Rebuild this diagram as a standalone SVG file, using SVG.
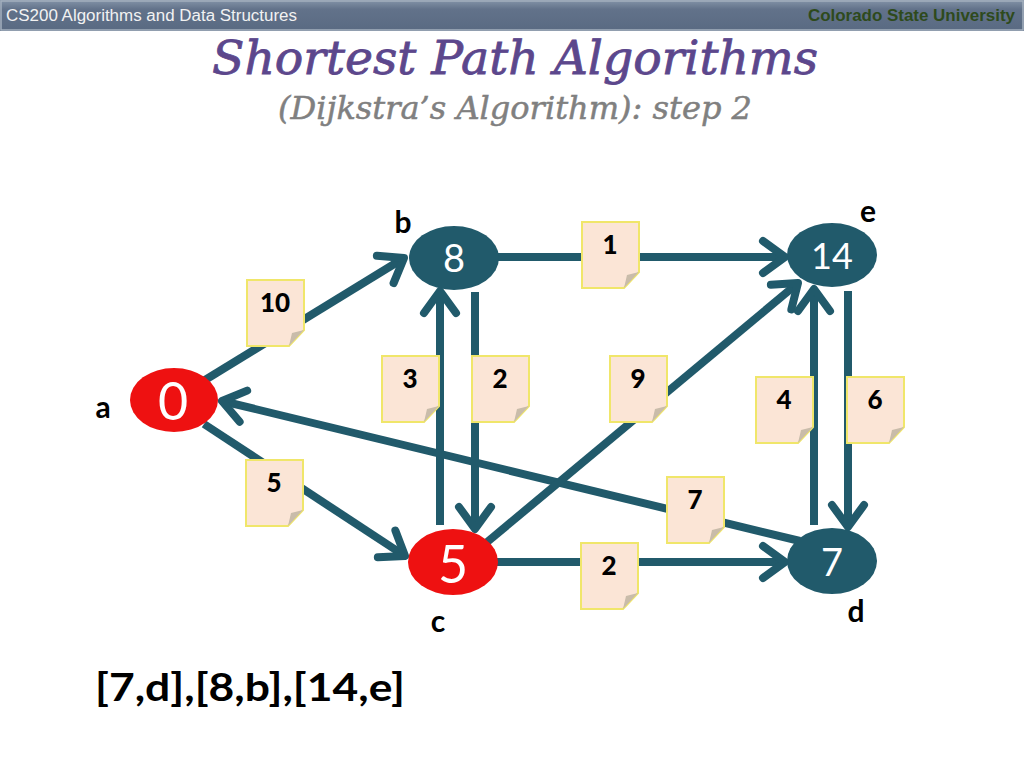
<svg xmlns="http://www.w3.org/2000/svg" width="1024" height="768" viewBox="0 0 1024 768">
<style>
.hdr{font-family:"Liberation Sans",Arial,sans-serif;font-size:16px}
.title{font-family:"DejaVu Serif","Liberation Serif",serif;font-style:italic}
.edge{fill:none;stroke:#215A6B;stroke-width:8}
.dark{fill:#215A6B}
.red{fill:#EE1111}
.ntext{font-family:Lato,"Open Sans",sans-serif;fill:#FFFFFF;text-anchor:middle}
.lbl{font-family:Lato,"Open Sans",sans-serif;font-weight:bold;font-size:30px;fill:#000;text-anchor:middle}
.wt{font-family:Lato,"Open Sans",sans-serif;font-weight:900;font-size:26px;fill:#000;text-anchor:middle}
</style>
<defs>
<linearGradient id="bar" x1="0" y1="0" x2="0" y2="1">
<stop offset="0" stop-color="#8494A8"/>
<stop offset="0.3" stop-color="#62728A"/>
<stop offset="1" stop-color="#596A82"/>
</linearGradient>
<marker id="arr" markerUnits="userSpaceOnUse" viewBox="-32 -22 40 44" markerWidth="40" markerHeight="44" refX="0" refY="0" orient="auto">
<path d="M-22,-16 L0,0 L-22,16" fill="none" stroke="#215A6B" stroke-width="8" stroke-linecap="round" stroke-linejoin="round"/>
</marker>
<g id="note">
<path d="M0,0 H57 V50 L42,66 H0 Z" fill="#FBE5D6" stroke="#F0E66A" stroke-width="2"/>
<path d="M42,66 L45,53 L57,50 Z" fill="#C9BCAA"/>
</g>
</defs>
<rect x="0" y="0" width="1024" height="768" fill="#FFFFFF"/>
<g id="header">
<rect x="0" y="0" width="1024" height="31" fill="url(#bar)"/>
<rect x="1" y="1" width="1022" height="29" fill="none" stroke="#A4B0BE" stroke-width="1.5"/>
<text class="hdr" x="6" y="21" fill="#F2F2F2" textLength="291" lengthAdjust="spacingAndGlyphs">CS200 Algorithms and Data Structures</text>
<text class="hdr" x="808" y="21" fill="#2E4A1C" font-weight="bold" textLength="207" lengthAdjust="spacingAndGlyphs">Colorado State University</text>
</g>
<text class="title" x="212" y="74" font-size="46" fill="#5C478C" stroke="#5C478C" stroke-width="0.8" textLength="606" lengthAdjust="spacingAndGlyphs">Shortest Path Algorithms</text>
<text class="title" x="278" y="119" font-size="32" fill="#808080" stroke="#808080" stroke-width="0.5" textLength="474" lengthAdjust="spacingAndGlyphs">(Dijkstra’s Algorithm): step 2</text>

<g id="connectors">
<line class="edge" x1="205" y1="380" x2="404" y2="258" marker-end="url(#arr)"/>
<line class="edge" x1="204" y1="424" x2="405" y2="556" marker-end="url(#arr)"/>
<line class="edge" x1="800" y1="541" x2="222" y2="401" marker-end="url(#arr)"/>
<line class="edge" x1="498" y1="257" x2="785" y2="257" marker-end="url(#arr)"/>
<line class="edge" x1="440" y1="525" x2="440" y2="291" marker-end="url(#arr)"/>
<line class="edge" x1="475" y1="292" x2="475" y2="529" marker-end="url(#arr)"/>
<line class="edge" x1="486" y1="543" x2="798" y2="283" marker-end="url(#arr)"/>
<line class="edge" x1="497" y1="562" x2="785" y2="562" marker-end="url(#arr)"/>
<line class="edge" x1="814" y1="525" x2="814" y2="289" marker-end="url(#arr)"/>
<line class="edge" x1="848" y1="291" x2="848" y2="527" marker-end="url(#arr)"/>
<use href="#note" x="247" y="280"/><text class="wt" x="275" y="312">10</text>
<use href="#note" x="246" y="460"/><text class="wt" x="274" y="492">5</text>
<use href="#note" x="582" y="222"/><text class="wt" x="610" y="254">1</text>
<use href="#note" x="382" y="356"/><text class="wt" x="410" y="388">3</text>
<use href="#note" x="472" y="356"/><text class="wt" x="500" y="388">2</text>
<use href="#note" x="610" y="356"/><text class="wt" x="638" y="388">9</text>
<use href="#note" x="756" y="377"/><text class="wt" x="784" y="409">4</text>
<use href="#note" x="847" y="377"/><text class="wt" x="875" y="409">6</text>
<use href="#note" x="667" y="477"/><text class="wt" x="695" y="509">7</text>
<use href="#note" x="581" y="543"/><text class="wt" x="609" y="575">2</text>
</g>

<g id="node-a">
<ellipse class="red" cx="174" cy="400" rx="44" ry="32"/>
<text class="ntext" x="173" y="420" font-size="52">0</text>
<text class="lbl" x="103" y="418">a</text>
</g>
<g id="node-b">
<ellipse class="dark" cx="454" cy="258" rx="45" ry="32"/>
<text class="ntext" x="454" y="272" font-size="38">8</text>
<text class="lbl" x="403" y="233">b</text>
</g>
<g id="node-c">
<ellipse class="red" cx="453" cy="562" rx="45" ry="33"/>
<text class="ntext" x="453" y="583" font-size="52">5</text>
<text class="lbl" x="438" y="632">c</text>
</g>
<g id="node-d">
<ellipse class="dark" cx="832" cy="561" rx="45" ry="33"/>
<text class="ntext" x="832" y="576" font-size="38">7</text>
<text class="lbl" x="856" y="622">d</text>
</g>
<g id="node-e">
<ellipse class="dark" cx="832" cy="255" rx="45" ry="32"/>
<text class="ntext" x="832" y="269" font-size="36">14</text>
<text class="lbl" x="868" y="222">e</text>
</g>

<text x="95" y="701" font-family="Lato,'Open Sans',sans-serif" font-weight="bold" font-size="38" fill="#000" textLength="310" lengthAdjust="spacingAndGlyphs">[7,d],[8,b],[14,e]</text>
</svg>
